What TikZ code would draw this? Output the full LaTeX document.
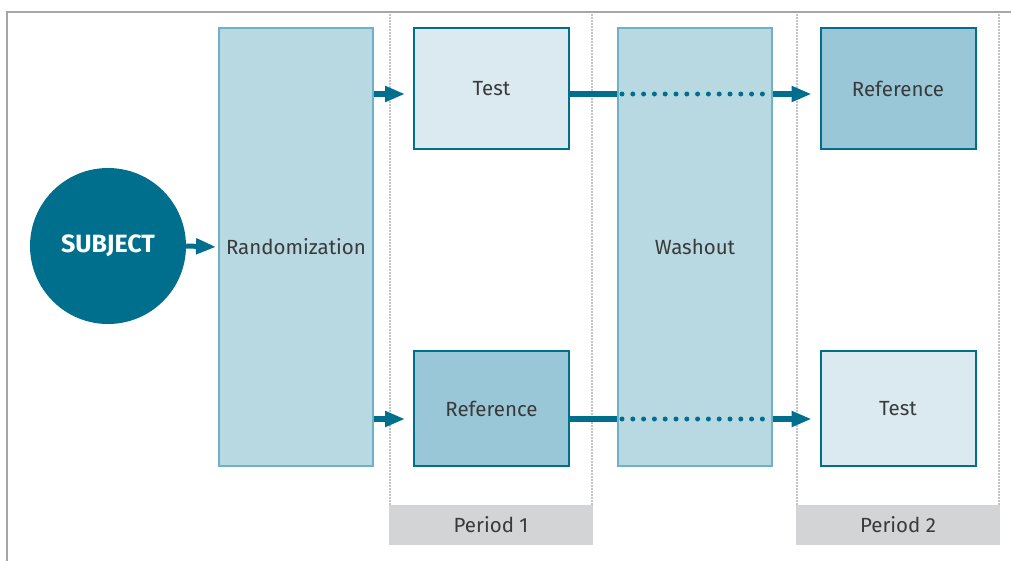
\documentclass[tikz,border=0pt]{standalone}
\usepackage{fontspec}
\setmainfont{Fira Sans}
\usetikzlibrary{arrows.meta}
\definecolor{teal}{HTML}{006F8E}
\definecolor{midfill}{HTML}{B8D8E2}
\definecolor{midline}{HTML}{6DB2C6}
\definecolor{lightfill}{HTML}{DAEAF0}
\definecolor{darkfill}{HTML}{99C7D7}
\definecolor{txt}{HTML}{3A3A3A}
\definecolor{gridgray}{HTML}{C4C4C4}
\definecolor{labgray}{HTML}{D3D4D6}
\begin{document}
\begin{tikzpicture}[x=1pt,y=-1pt,
  lab/.style={text=txt,font=\fontsize{20.5}{24}\selectfont},
  tall/.style={lab,draw=midline,line width=2pt,fill=midfill,minimum width=154pt,minimum height=438pt,inner sep=0pt},
  trt/.style={lab,draw=teal,line width=2pt,minimum width=155pt,inner sep=0pt},
  lightbox/.style={trt,fill=lightfill},
  darkbox/.style={trt,fill=darkfill},
  period/.style={lab,fill=labgray,minimum width=204pt,minimum height=40pt,inner sep=0pt},
  guide/.style={draw=gridgray,line width=1.2pt,dash pattern=on 1.5pt off 1.5pt},
  arr/.style={draw=teal,line width=6pt,-{Triangle[length=20pt,width=15pt]}},
  thick/.style={draw=teal,line width=6.5pt},
  dots/.style={draw=teal,line width=5pt,line cap=round,dash pattern=on 0pt off 10.8pt}
]
\useasboundingbox (0,0) rectangle (1011,560);
\fill[white] (0,0) rectangle (1011,560);
\draw[draw=gray!70,line width=1.5pt] (1015,12) -- (7,12) -- (7,565);
% guides
\draw[guide] (390,14) -- (390,505);
\draw[guide] (592,14) -- (592,505);
\draw[guide] (797,14) -- (797,505);
\draw[guide] (999,14) -- (999,505);
\node[period] (p1) at (491,525) {Period 1};
\node[period] (p2) at (898,525) {Period 2};
% nodes
\node[circle,fill=teal,minimum size=156pt,inner sep=0pt,text=white,font=\bfseries\fontsize{25}{28}\selectfont] (subj) at (108,246) {SUBJECT};
\node[tall] (rand) at (296,247) {Randomization};
\node[tall] (wash) at (695,247) {Washout};
\node[lightbox,minimum height=121pt] (t1) at (491.5,88.5) {Test};
\node[darkbox,minimum height=115pt] (r1) at (491.5,408.5) {Reference};
\node[darkbox,minimum height=121pt] (r2) at (898,88.5) {Reference};
\node[lightbox,minimum height=115pt] (t2) at (898,408.5) {Test};
% connectors
\coordinate (y1) at (0,94);
\coordinate (y2) at (0,419);
\coordinate (a1) at (rand.east |- y1);
\coordinate (a2) at (rand.east |- y2);
\coordinate (b1) at (t1.west |- y1);
\coordinate (b2) at (r1.west |- y2);
\coordinate (c1) at (t1.east |- y1);
\coordinate (c2) at (r1.east |- y2);
\coordinate (w1) at (wash.west |- y1);
\coordinate (w2) at (wash.east |- y1);
\coordinate (w3) at (wash.west |- y2);
\coordinate (w4) at (wash.east |- y2);
\coordinate (d1) at (r2.west |- y1);
\coordinate (d2) at (t2.west |- y2);
\draw[arr,line width=5pt,shorten >=2pt] (subj.east) -- (rand.west);
\draw[arr,shorten >=8pt] (a1) -- (b1);
\draw[arr,shorten >=8pt] (a2) -- (b2);
\draw[thick] (c1) -- (w1);
\draw[thick] (c2) -- (w3);
\draw[dots] ([xshift=5pt]w1) -- ([xshift=-5pt]w2);
\draw[dots] ([xshift=5pt]w3) -- ([xshift=-5pt]w4);
\draw[arr,shorten >=8pt] (w2) -- (d1);
\draw[arr,shorten >=8pt] (w4) -- (d2);
\end{tikzpicture}
\end{document}
